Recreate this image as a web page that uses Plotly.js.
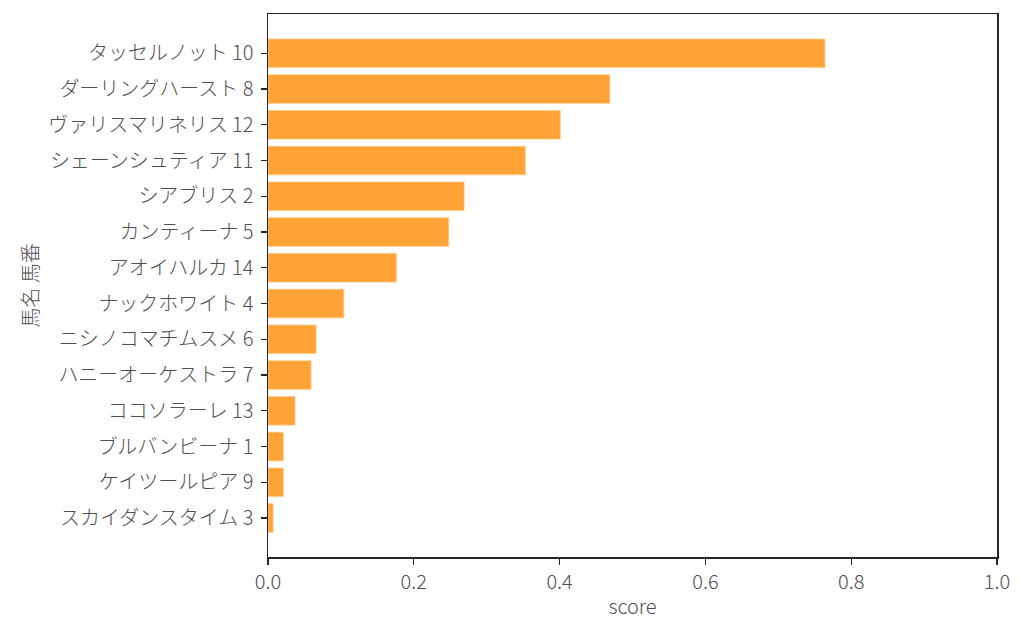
<!DOCTYPE html>
<html>
<head>
<meta charset="utf-8">
<script src="https://cdn.plot.ly/plotly-3.0.1.min.js"></script>
<style>
  html, body { margin: 0; padding: 0; background: #fff; }
  #chart { width: 1024px; height: 638px; }
</style>
</head>
<body>
<div id="chart"></div>
<script>
// 馬名 馬番 (上から順)
const horseNames = [
  'タッセルノット 10',
  'ダーリングハースト 8',
  'ヴァリスマリネリス 12',
  'シェーンシュティア 11',
  'シアブリス 2',
  'カンティーナ 5',
  'アオイハルカ 14',
  'ナックホワイト 4',
  'ニシノコマチムスメ 6',
  'ハニーオーケストラ 7',
  'ココソラーレ 13',
  'ブルバンビーナ 1',
  'ケイツールピア 9',
  'スカイダンスタイム 3'
];
const scores = [0.764, 0.469, 0.401, 0.353, 0.269, 0.248, 0.176, 0.104, 0.066, 0.059, 0.037, 0.021, 0.021, 0.007];
const xTicks = [0, 0.2, 0.4, 0.6, 0.8, 1.0];
const xTickText = ['0.0', '0.2', '0.4', '0.6', '0.8', '1.0'];

const fuente = 'Noto Sans CJK JP, Noto Sans, sans-serif';
const gris = '#4f4f4f';
const negro = '#262626';
const tam = 20;

const trace = {
  type: 'bar',
  orientation: 'h',
  x: scores,
  y: horseNames,
  width: 0.8,
  marker: {
    color: '#FFA336',
    line: {color: '#FFC98A', width: 0.8}
  },
  hoverinfo: 'x+y'
};

const layout = {
  width: 1024,
  height: 638,
  margin: {l: 268, r: 27, t: 14, b: 81},
  paper_bgcolor: '#fff',
  plot_bgcolor: '#fff',
  showlegend: false,
  font: {family: fuente, size: tam, color: gris, weight: 300},
  xaxis: {
    range: [0, 1],
    tickvals: xTicks,
    ticktext: xTickText,
    showgrid: false,
    zeroline: false,
    showline: true,
    mirror: true,
    linecolor: negro,
    linewidth: 1.5,
    ticks: 'outside',
    ticklen: 6,
    tickwidth: 1.2,
    tickcolor: negro,
    tickfont: {family: fuente, size: tam, color: gris, weight: 300},
    title: {text: 'score', font: {family: fuente, size: tam, color: gris, weight: 300}, standoff: 6}
  },
  yaxis: {
    type: 'category',
    range: [14.09, -1.1],
    showgrid: false,
    zeroline: false,
    showline: true,
    mirror: true,
    linecolor: negro,
    linewidth: 1.5,
    ticks: 'outside',
    ticklen: 6,
    tickwidth: 1.2,
    tickcolor: negro,
    ticklabelstandoff: 3,
    tickfont: {family: fuente, size: tam, color: gris, weight: 300},
    title: {text: '馬名 馬番', font: {family: fuente, size: tam, color: gris, weight: 300}, standoff: 4}
  }
};

Plotly.newPlot('chart', [trace], layout, {displayModeBar: false, staticPlot: true});
</script>
</body>
</html>
